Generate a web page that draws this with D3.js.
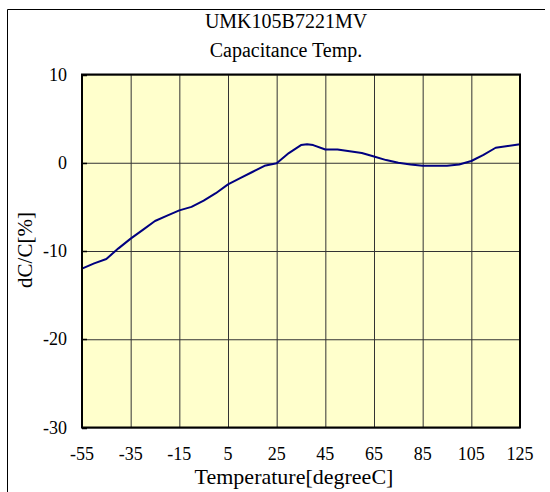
<!DOCTYPE html>
<html><head><meta charset="utf-8">
<script src="https://cdn.jsdelivr.net/npm/d3@7"></script>
<style>body{margin:0;background:#fff}svg{display:block}text{font-family:"Liberation Serif","Times New Roman",serif;fill:#000}</style>
</head><body>
<script>
const titleLines = ["UMK105B7221MV", "Capacitance Temp."];
const xLabel = "Temperature[degreeC]";
const yLabel = "dC/C[%]";
const xTicks = [-55, -35, -15, 5, 25, 45, 65, 85, 105, 125];
const yTicks = [10, 0, -10, -20, -30];
const temps = [-55,-50,-45,-40,-35,-30,-25,-20,-15,-10,-5,0,5,10,15,20,25,30,35,37.5,40,45,50,55,60,65,70,75,80,85,90,95,100,105,110,115,120,125];
const dcc = [-12.0,-11.4,-10.9,-9.7,-8.6,-7.6,-6.6,-6.0,-5.4,-5.0,-4.3,-3.45,-2.45,-1.75,-1.05,-0.35,-0.05,1.1,2.0,2.1,2.0,1.5,1.5,1.3,1.1,0.7,0.3,0.0,-0.2,-0.35,-0.35,-0.35,-0.2,0.2,0.9,1.7,1.9,2.1];

const W = 550, H = 492;
const m = {l: 82, r: 520, t: 74.5, b: 427.5};
const svg = d3.select("body").append("svg").attr("width", W).attr("height", H);

// outer frame (top + left visible)
svg.append("path").attr("d", `M7.5,${H} L7.5,9.5 L545,9.5`).attr("fill","none").attr("stroke","#000").attr("stroke-width",1);

const x = d3.scaleLinear().domain([-55, 125]).range([m.l, m.r]);
const y = d3.scaleLinear().domain([-30, 10]).range([m.b, m.t]);

svg.append("rect").attr("x", m.l).attr("y", m.t).attr("width", m.r - m.l).attr("height", m.b - m.t).attr("fill", "#FFFFCC");

// grid
const gx = svg.append("g").attr("transform", `translate(0,${m.b})`)
  .call(d3.axisBottom(x).tickValues(xTicks).tickSize(-(m.b - m.t)).tickFormat(""));
gx.select(".domain").remove();
gx.selectAll("line").attr("stroke", "#333").attr("stroke-width", 1);
const gy = svg.append("g").attr("transform", `translate(${m.l},0)`)
  .call(d3.axisLeft(y).tickValues(yTicks).tickSize(-(m.r - m.l)).tickFormat(""));
gy.select(".domain").remove();
gy.selectAll("line").attr("stroke", "#333").attr("stroke-width", 1);
// small inward ticks on y axis
svg.append("g").selectAll("line").data(yTicks).join("line")
  .attr("x1", m.l).attr("x2", m.l + 5).attr("y1", d => Math.round(y(d)) + 0.5).attr("y2", d => Math.round(y(d)) + 0.5)
  .attr("stroke", "#000").attr("stroke-width", 1.5);

// curve
svg.append("path").datum(temps.map((t, i) => [t, dcc[i]]))
  .attr("d", d3.line().x(d => x(d[0])).y(d => y(d[1])))
  .attr("fill", "none").attr("stroke", "#000080").attr("stroke-width", 2).attr("stroke-linejoin","round");

// plot border
svg.append("rect").attr("x", m.l).attr("y", m.t).attr("width", m.r - m.l).attr("height", m.b - m.t)
  .attr("fill", "none").attr("stroke", "#000").attr("stroke-width", 2);

// tick labels
svg.append("g").selectAll("text").data(xTicks).join("text")
  .attr("x", d => x(d)).attr("y", 460).attr("text-anchor", "middle").attr("font-size", 18).text(d => d);
svg.append("g").selectAll("text").data(yTicks).join("text")
  .attr("x", 67).attr("y", d => y(d) + 6).attr("text-anchor", "end").attr("font-size", 18).text(d => d);

// titles
svg.append("g").selectAll("text").data(titleLines).join("text")
  .attr("x", 286).attr("y", (d, i) => 28 + i * 29).attr("text-anchor", "middle").attr("font-size", 20).text(d => d);
svg.append("text").attr("x", 294).attr("y", 484).attr("text-anchor", "middle").attr("font-size", 22).text(xLabel);
svg.append("text").attr("transform", "translate(32,250) rotate(-90)").attr("text-anchor", "middle").attr("font-size", 21).text(yLabel);
</script>
</body></html>
